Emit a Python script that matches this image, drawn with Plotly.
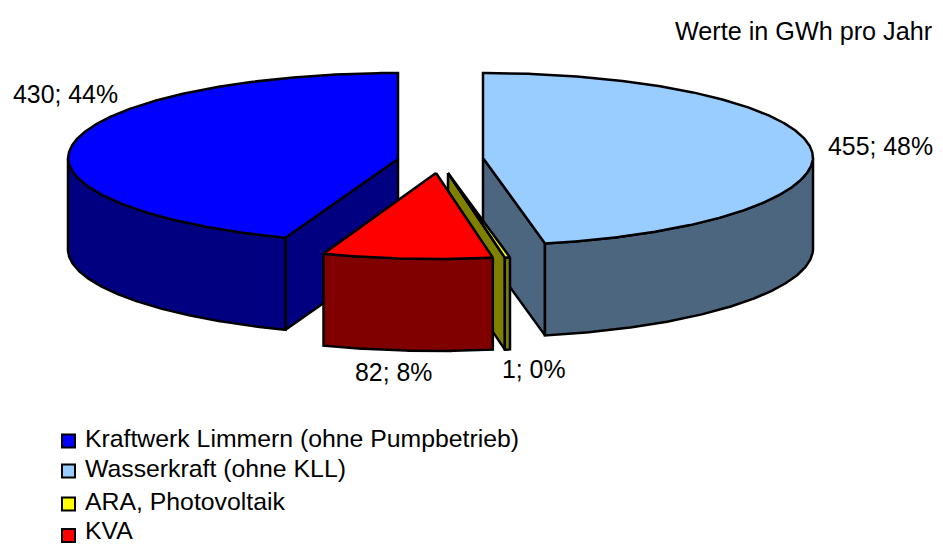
import math
import plotly.graph_objects as go

# Data
categories = ["Wasserkraft (ohne KLL)", "ARA, Photovoltaik", "KVA", "Kraftwerk Limmern (ohne Pumpbetrieb)"]
values = [455, 1, 82, 430]
percent_labels = ["48%", "0%", "8%", "44%"]
# The ARA sliver is drawn wider than its rounded label; this is the width.
plotted_values = [455, 2.5, 82, 430]
legend_order = ["Kraftwerk Limmern (ohne Pumpbetrieb)", "Wasserkraft (ohne KLL)", "ARA, Photovoltaik", "KVA"]
unit_note = "Werte in GWh pro Jahr"

# Styles
top_colors = {"Wasserkraft (ohne KLL)": "#99CCFF", "ARA, Photovoltaik": "#FFFF00", "KVA": "#FF0000",
              "Kraftwerk Limmern (ohne Pumpbetrieb)": "#0000FF"}
wall_colors = {"Wasserkraft (ohne KLL)": "#4D6680", "ARA, Photovoltaik": "#808000", "KVA": "#800000",
               "Kraftwerk Limmern (ohne Pumpbetrieb)": "#000080"}

# Pie geometry (canvas pixels): exploded centre x, y, back radius, front radius of each slice
centres = {"Wasserkraft (ohne KLL)": (483, 158, 85, 87), "ARA, Photovoltaik": (448, 173, 86, 86),
           "KVA": (436, 173, 86, 86), "Kraftwerk Limmern (ohne Pumpbetrieb)": (398, 159, 86, 84)}
RX, DEPTH, FRONT_NARROW = 330, 92, 0.02
FONT = "Liberation Sans, Arial, sans-serif"
FS = 24.85
LINE = 2.5

total = sum(plotted_values)
angles = {}
a = 0.0
for c, v in zip(categories, plotted_values):
    angles[c] = (a, a + 360.0 * v / total)
    a += 360.0 * v / total


def rim(cat, a0, a1, dy=0.0):
    cx, cy, ry_back, ry_front = centres[cat]
    n = max(2, int(abs(a1 - a0) * 2) + 2)
    xs, ys = [], []
    for i in range(n):
        t = math.radians(a0 + (a1 - a0) * i / (n - 1))
        c_t = math.cos(t)
        xs.append(cx + RX * math.sin(t) * (1 - FRONT_NARROW * max(0.0, -c_t)))
        ys.append(cy - (ry_back if c_t > 0 else ry_front) * c_t + dy)
    return xs, ys


fig = go.Figure()


def poly(xs, ys, color):
    fig.add_trace(go.Scatter(x=xs + xs[:1], y=ys + ys[:1], mode="lines", fill="toself", fillcolor=color,
                             line=dict(color="black", width=LINE), hoverinfo="skip", showlegend=False))


def top(cat):
    a0, a1 = angles[cat]
    cx, cy = centres[cat][:2]
    xs, ys = rim(cat, a0, a1)
    poly([cx] + xs, [cy] + ys, top_colors[cat])


def outer_wall(cat, a0, a1):
    xs, ys = rim(cat, a0, a1)
    xb, yb = rim(cat, a0, a1, DEPTH)
    poly(xs + xb[::-1], ys + yb[::-1], wall_colors[cat])


def cut_face(cat, ang):
    cx, cy = centres[cat][:2]
    xs, ys = rim(cat, ang, ang)
    poly([cx, xs[0], xs[0], cx], [cy, ys[0], ys[0] + DEPTH, cy + DEPTH], wall_colors[cat])


W, ARA, KVA, KLL = categories

# Kraftwerk Limmern
cut_face(KLL, angles[KLL][0])
outer_wall(KLL, angles[KLL][0], 270)
top(KLL)
# Wasserkraft
cut_face(W, angles[W][1])
outer_wall(W, 90, angles[W][1])
top(W)
# ARA
cut_face(ARA, angles[ARA][1])
outer_wall(ARA, *angles[ARA])
top(ARA)
# KVA
outer_wall(KVA, *angles[KVA])
top(KVA)

# Legend: drawn as marker + text rows, the built-in legend cannot keep this tight row spacing at the page bottom
legend_marker_y = [441, 471, 504, 535.5]
legend_text_y = [440.5, 470.5, 503.5, 533]
for name, ym, yt in zip(legend_order, legend_marker_y, legend_text_y):
    fig.add_trace(go.Scatter(x=[68.5], y=[ym], mode="markers", name=name, showlegend=False, hoverinfo="name",
                             marker=dict(symbol="square", size=13, color=top_colors[name],
                                         line=dict(color="black", width=2))))
    fig.add_trace(go.Scatter(x=[85], y=[yt], mode="text", text=[name], textposition="middle right",
                             showlegend=False, hoverinfo="skip",
                             textfont=dict(family=FONT, size=24.8, color="black")))

# Data labels
label_pos = {W: (880, 146), ARA: (534, 369), KVA: (393, 372), KLL: (65, 94)}
for c, v, p in zip(categories, values, percent_labels):
    x, y = label_pos[c]
    fig.add_annotation(x=x, y=y, text=f"{v}; {p}", showarrow=False, xanchor="center", yanchor="middle",
                       font=dict(family=FONT, size=FS, color="black"))
fig.add_annotation(x=934, y=31, text=unit_note, showarrow=False, xanchor="right", yanchor="middle",
                   font=dict(family=FONT, size=25.2, color="black"))

fig.update_layout(
    width=943, height=545, margin=dict(l=0, r=0, t=0, b=0), paper_bgcolor="white", plot_bgcolor="white",
    xaxis=dict(range=[0, 943], visible=False), yaxis=dict(range=[545, 0], visible=False),
    font=dict(family=FONT, size=FS, color="black"), showlegend=False,
)
fig.write_html("out.html", config=dict(displayModeBar=False),
               post_script="document.body.style.margin='0';document.documentElement.style.overflow='hidden';")
